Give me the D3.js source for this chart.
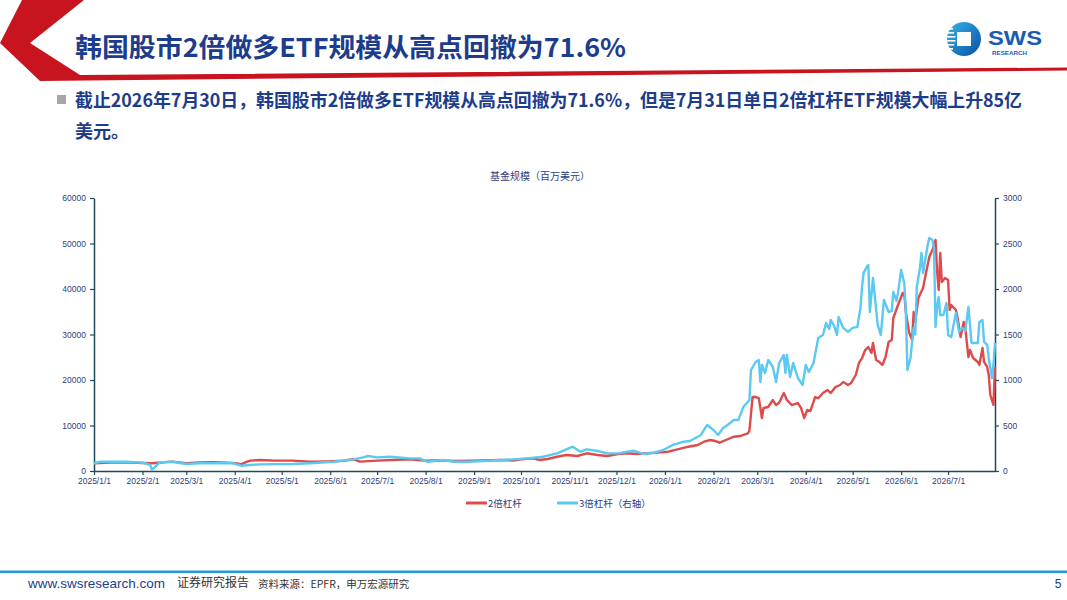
<!DOCTYPE html>
<html>
<head>
<meta charset="utf-8">
<script src="https://cdn.jsdelivr.net/npm/d3@7"></script>
<style>
  html, body { margin: 0; padding: 0; background: #fff; }
  svg { display: block; }
  text { font-family: "Liberation Sans", Arial, "Noto Sans CJK SC", sans-serif; }
  .cjk { font-family: "Noto Sans CJK SC", "Liberation Sans", sans-serif; }
</style>
</head>
<body>
<svg id="chart" width="1067" height="600"></svg>
<script>
// ---------------- DATA ----------------
const pageTitle = "韩国股市2倍做多ETF规模从高点回撤为71.6%";
const bulletLine1 = "截止2026年7月30日，韩国股市2倍做多ETF规模从高点回撤为71.6%，但是7月31日单日2倍杠杆ETF规模大幅上升85亿";
const bulletLine2 = "美元。";
const chartTitle = "基金规模（百万美元）";
const seriesNames = ["2倍杠杆", "3倍杠杆（右轴）"];
const leftTicks = [0, 10000, 20000, 30000, 40000, 50000, 60000];
const rightTicks = [0, 500, 1000, 1500, 2000, 2500, 3000];
const xTickLabels = ["2025/1/1","2025/2/1","2025/3/1","2025/4/1","2025/5/1","2025/6/1","2025/7/1","2025/8/1","2025/9/1","2025/10/1","2025/11/1","2025/12/1","2026/1/1","2026/2/1","2026/3/1","2026/4/1","2026/5/1","2026/6/1","2026/7/1"];
const xDomain = ["2025-01-01", "2026-07-31"];

// 2x leveraged (left axis, USD mn)
const redDates = ["2025-01-01","2025-01-11","2025-01-22","2025-02-01","2025-02-07","2025-02-20","2025-03-01","2025-03-09","2025-03-18","2025-03-27","2025-04-02","2025-04-05","2025-04-09","2025-04-11","2025-04-17","2025-04-25","2025-05-08","2025-05-19","2025-05-30","2025-06-09","2025-06-16","2025-06-20","2025-07-01","2025-07-11","2025-07-22","2025-07-27","2025-08-02","2025-08-10","2025-08-19","2025-08-30","2025-09-18","2025-09-26","2025-10-01","2025-10-09","2025-10-13","2025-10-18","2025-10-24","2025-10-30","2025-11-06","2025-11-12","2025-11-19","2025-11-25","2025-12-02","2025-12-08","2025-12-14","2025-12-21","2025-12-27","2026-01-03","2026-01-09","2026-01-16","2026-01-22","2026-01-26","2026-01-30","2026-02-02","2026-02-05","2026-02-09","2026-02-14","2026-02-18","2026-02-23","2026-02-24","2026-02-26","2026-02-28","2026-03-02","2026-03-04","2026-03-05","2026-03-08","2026-03-11","2026-03-13","2026-03-15","2026-03-18","2026-03-20","2026-03-23","2026-03-27","2026-03-29","2026-03-31","2026-04-02","2026-04-04","2026-04-07","2026-04-09","2026-04-12","2026-04-15","2026-04-17","2026-04-20","2026-04-23","2026-04-25","2026-04-28","2026-04-30","2026-05-03","2026-05-05","2026-05-07","2026-05-09","2026-05-11","2026-05-13","2026-05-14","2026-05-16","2026-05-18","2026-05-20","2026-05-22","2026-05-24","2026-05-26","2026-05-27","2026-05-30","2026-06-02","2026-06-03","2026-06-04","2026-06-06","2026-06-08","2026-06-09","2026-06-10","2026-06-12","2026-06-15","2026-06-17","2026-06-19","2026-06-21","2026-06-23","2026-06-24","2026-06-25","2026-06-26","2026-06-27","2026-06-29","2026-07-01","2026-07-02","2026-07-03","2026-07-06","2026-07-07","2026-07-09","2026-07-11","2026-07-12","2026-07-14","2026-07-15","2026-07-17","2026-07-20","2026-07-21","2026-07-23","2026-07-24","2026-07-26","2026-07-27","2026-07-28","2026-07-30","2026-07-31"];
const redValues = [1700,1830,1900,1750,1690,2050,1690,1900,1950,1830,1700,1470,2050,2270,2420,2300,2270,2050,2120,2250,2570,2050,2270,2420,2570,2420,2250,2350,2200,2250,2420,2300,2570,2790,2420,2640,3140,3520,3300,3890,3520,3300,3740,3890,3740,3890,4030,4240,4760,5340,5710,6440,6810,6600,6220,6810,7540,7690,8280,8800,16260,16260,16040,11650,13850,14070,15600,14500,15000,17140,15600,14500,14940,13850,11650,13410,13200,16260,16000,17140,17800,17140,18460,18900,19560,18900,19340,21100,23740,24830,26590,27250,25930,28130,24390,24000,23300,25000,28350,28790,33630,36480,39120,39000,34950,30550,28790,34950,32750,38020,40220,43740,47030,48570,50770,43740,39780,47910,41540,42420,41980,35380,36480,35380,33850,29450,32750,31430,25050,26590,24830,23960,23300,27030,23960,22860,21100,16700,14510,22960];

// 3x leveraged (right axis, USD mn)
const blueDates = ["2025-01-01","2025-01-05","2025-01-22","2025-02-01","2025-02-06","2025-02-07","2025-02-08","2025-02-12","2025-02-20","2025-03-01","2025-03-09","2025-03-22","2025-03-31","2025-04-05","2025-04-11","2025-04-17","2025-05-08","2025-05-19","2025-06-03","2025-06-09","2025-06-16","2025-06-22","2025-06-25","2025-07-01","2025-07-09","2025-07-22","2025-07-28","2025-08-02","2025-08-12","2025-08-19","2025-08-28","2025-09-07","2025-09-18","2025-09-26","2025-10-05","2025-10-15","2025-10-24","2025-10-30","2025-11-03","2025-11-08","2025-11-12","2025-11-19","2025-11-25","2025-12-02","2025-12-08","2025-12-12","2025-12-18","2025-12-25","2025-12-31","2026-01-06","2026-01-13","2026-01-17","2026-01-24","2026-01-28","2026-02-01","2026-02-04","2026-02-07","2026-02-10","2026-02-14","2026-02-17","2026-02-20","2026-02-24","2026-02-25","2026-02-28","2026-03-02","2026-03-03","2026-03-04","2026-03-06","2026-03-08","2026-03-11","2026-03-13","2026-03-15","2026-03-18","2026-03-19","2026-03-20","2026-03-22","2026-03-24","2026-03-27","2026-03-30","2026-04-01","2026-04-03","2026-04-06","2026-04-09","2026-04-12","2026-04-14","2026-04-16","2026-04-17","2026-04-19","2026-04-21","2026-04-22","2026-04-25","2026-04-28","2026-05-01","2026-05-04","2026-05-06","2026-05-07","2026-05-08","2026-05-10","2026-05-11","2026-05-12","2026-05-14","2026-05-17","2026-05-19","2026-05-21","2026-05-24","2026-05-26","2026-05-27","2026-05-29","2026-05-30","2026-06-01","2026-06-03","2026-06-04","2026-06-05","2026-06-07","2026-06-08","2026-06-09","2026-06-10","2026-06-11","2026-06-13","2026-06-14","2026-06-15","2026-06-18","2026-06-19","2026-06-21","2026-06-22","2026-06-23","2026-06-24","2026-06-25","2026-06-26","2026-06-28","2026-06-30","2026-07-01","2026-07-03","2026-07-06","2026-07-08","2026-07-10","2026-07-12","2026-07-14","2026-07-16","2026-07-20","2026-07-21","2026-07-23","2026-07-24","2026-07-26","2026-07-27","2026-07-29","2026-07-30","2026-07-31"];
const blueValues = [85,102,102,91,66,11,29,95,102,77,85,85,85,58,66,73,77,85,102,113,128,150,165,150,157,139,139,102,121,102,102,110,121,128,139,157,194,238,267,212,238,220,194,194,212,223,187,201,231,286,322,330,396,506,451,396,470,506,560,561,700,780,1110,1198,1220,978,1165,1077,1220,1143,978,1187,1275,1077,1275,1033,1187,1022,945,1165,1088,1187,1462,1495,1627,1560,1659,1600,1495,1692,1572,1528,1572,1583,1791,2022,2176,2242,2264,1747,2121,1605,1495,1879,1747,1760,1967,1870,1960,2209,2066,1747,1110,1242,1418,1572,1500,2022,2231,2396,2176,2484,2561,2539,2451,1583,1802,1912,1714,1714,1846,1495,1473,1736,1528,1572,1540,1802,1407,1407,1637,1659,1418,1385,1242,1022,1165,1407];

// ---------------- DRAW ----------------
const svg = d3.select("#chart");
const parse = d3.timeParse("%Y-%m-%d");
const navy = "#1D3C8C";
const axisCol = "#1F4A5E";
const tickTxt = "#2B3F7E";
const redCol = "#DE4B4D";
const blueCol = "#5BC9F1";

// header shapes
svg.append("polygon")
  .attr("points", "22,0 84,0 30,43 80,75 1067,67.5 1067,70.5 40,81 0,43")
  .attr("fill", "#C8141E");

// title
svg.append("text").attr("class", "cjk")
  .attr("x", 75).attr("y", 57)
  .attr("font-size", 26).attr("font-weight", 700)
  .attr("fill", navy)
  .attr("textLength", 551).attr("lengthAdjust", "spacingAndGlyphs")
  .text(pageTitle);

// logo
const defs = svg.append("defs");
const lg = defs.append("linearGradient").attr("id", "lg").attr("x1", "0").attr("y1", "0").attr("x2", "1").attr("y2", "1");
lg.append("stop").attr("offset", "0").attr("stop-color", "#36B4EA");
lg.append("stop").attr("offset", "1").attr("stop-color", "#0B4FA3");
svg.append("circle").attr("cx", 964).attr("cy", 39).attr("r", 17).attr("fill", "url(#lg)");
svg.append("rect").attr("x", 957).attr("y", 32).attr("width", 14).attr("height", 14).attr("fill", "#fff");
[28, 32, 36, 40, 44, 48].forEach((yy, i) => {
  svg.append("rect").attr("x", 946).attr("y", yy).attr("width", 10 - Math.abs(i - 2.5) * 1.2).attr("height", 1.6).attr("fill", "#fff");
});
svg.append("text").attr("x", 988).attr("y", 44.5)
  .attr("font-size", 21).attr("font-weight", 700).attr("fill", "#1B5BB3")
  .attr("font-family", "Liberation Sans, Arial, sans-serif")
  .attr("textLength", 54).attr("lengthAdjust", "spacingAndGlyphs")
  .text("SWS");
svg.append("text").attr("x", 992).attr("y", 55)
  .attr("font-size", 6).attr("font-weight", 700).attr("fill", "#1B5BB3")
  .attr("textLength", 35).attr("lengthAdjust", "spacingAndGlyphs")
  .text("RESEARCH");

// bullet
svg.append("rect").attr("x", 57).attr("y", 95).attr("width", 9).attr("height", 9).attr("fill", "#A6A6A6");
svg.append("text").attr("class", "cjk")
  .attr("x", 75).attr("y", 106.5)
  .attr("font-size", 18).attr("font-weight", 700).attr("fill", navy)
  .attr("textLength", 947).attr("lengthAdjust", "spacingAndGlyphs")
  .text(bulletLine1);
svg.append("text").attr("class", "cjk")
  .attr("x", 75).attr("y", 137.5)
  .attr("font-size", 18).attr("font-weight", 700).attr("fill", navy)
  .text(bulletLine2);

// scales
const x = d3.scaleTime().domain(xDomain.map(parse)).range([94, 995]);
const yL = d3.scaleLinear().domain([0, 60000]).range([471, 198]);
const yR = d3.scaleLinear().domain([0, 3000]).range([471, 198]);

// chart title
svg.append("text").attr("class", "cjk")
  .attr("x", 540).attr("y", 179.5).attr("text-anchor", "middle")
  .attr("font-size", 10).attr("fill", "#2B3F7E")
  .text(chartTitle);

function styleAxis(g) {
  g.select(".domain").attr("stroke", axisCol).attr("stroke-width", 1.5);
  g.selectAll(".tick line").attr("stroke", axisCol).attr("stroke-width", 1.2);
  g.selectAll(".tick text").attr("fill", tickTxt).attr("font-size", 8.5)
    .attr("font-family", "Liberation Sans, Arial, sans-serif");
}

const gL = svg.append("g").attr("transform", "translate(94,0)")
  .call(d3.axisLeft(yL).tickValues(leftTicks).tickFormat(d3.format("d")).tickSize(4).tickSizeOuter(0).tickPadding(4));
styleAxis(gL);
const gR = svg.append("g").attr("transform", "translate(995,0)")
  .call(d3.axisRight(yR).tickValues(rightTicks).tickFormat(d3.format("d")).tickSize(4).tickSizeOuter(0).tickPadding(4));
styleAxis(gR);

const fmtParse = d3.timeParse("%Y/%-m/%-d");
const gX = svg.append("g").attr("transform", "translate(0,471)")
  .call(d3.axisBottom(x).tickValues(xTickLabels.map(fmtParse)).tickFormat(d3.timeFormat("%Y/%-m/%-d")).tickSize(4).tickSizeOuter(0).tickPadding(3));
styleAxis(gX);

// lines
const redData = redDates.map((d, i) => ({ date: parse(d), v: redValues[i] }));
const blueData = blueDates.map((d, i) => ({ date: parse(d), v: blueValues[i] }));
const lineL = d3.line().x(d => x(d.date)).y(d => yL(d.v));
const lineR = d3.line().x(d => x(d.date)).y(d => yR(d.v));

svg.append("path").datum(redData).attr("d", lineL)
  .attr("fill", "none").attr("stroke", redCol).attr("stroke-width", 2.4).attr("stroke-linejoin", "round");
svg.append("path").datum(blueData).attr("d", lineR)
  .attr("fill", "none").attr("stroke", blueCol).attr("stroke-width", 2.4).attr("stroke-linejoin", "round");

// legend
const legend = [
  { name: seriesNames[0], col: redCol, x0: 466 },
  { name: seriesNames[1], col: blueCol, x0: 557 }
];
legend.forEach(l => {
  svg.append("line").attr("x1", l.x0).attr("x2", l.x0 + 21).attr("y1", 503).attr("y2", 503)
    .attr("stroke", l.col).attr("stroke-width", 3);
  svg.append("text").attr("class", "cjk").attr("x", l.x0 + 22).attr("y", 506.5)
    .attr("font-size", 9.5).attr("fill", tickTxt).text(l.name);
});

// footer
svg.append("rect").attr("x", 0).attr("y", 570.5).attr("width", 1067).attr("height", 2.5).attr("fill", "#1E9CD8");
svg.append("text").attr("x", 28).attr("y", 588)
  .attr("font-size", 13).attr("fill", "#1D3C8C")
  .attr("textLength", 137).attr("lengthAdjust", "spacingAndGlyphs")
  .text("www.swsresearch.com");
svg.append("text").attr("class", "cjk").attr("x", 177).attr("y", 586.5)
  .attr("font-size", 12).attr("fill", "#333")
  .text("证券研究报告");
svg.append("text").attr("class", "cjk").attr("x", 258).attr("y", 588)
  .attr("font-size", 10.5).attr("fill", "#333")
  .text("资料来源：EPFR，申万宏源研究");
svg.append("text").attr("x", 1058).attr("y", 588).attr("text-anchor", "middle")
  .attr("font-size", 12).attr("fill", "#1D3C8C")
  .text("5");
</script>
</body>
</html>
